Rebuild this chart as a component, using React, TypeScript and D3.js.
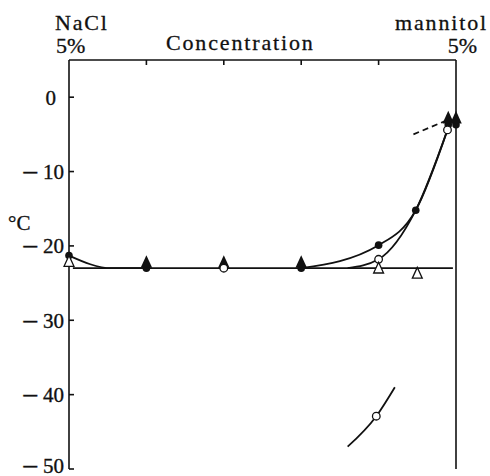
import React from "react";
import * as d3 from "d3";

// Composition axis: 0 = NaCl 5%, 5 = mannitol 5%
const xTicks = [0, 1, 2, 3, 4, 5];
const yTicks = [0, -10, -20, -30, -40, -50];

// Measured transition temperatures (°C)
const filledCircles: [number, number][] = [
  [0, -21.3], [1, -23], [3, -23], [4, -19.9], [4.48, -15.2], [4.9, -3.7], [5, -3.7],
];
const openCircles: [number, number][] = [
  [2, -23], [4, -21.8], [4.89, -4.4], [3.97, -42.9],
];
const filledTriangles: [number, number][] = [
  [1, -22.3], [2, -22.3], [3, -22.3], [4.9, -2.9], [5, -2.9],
];
const openTriangles: [number, number][] = [
  [0, -22.2], [4, -23.1], [4.5, -23.8],
];

// Eutectic level
const eutectic = -23;
const eutecticRange: [number, number] = [0.05, 4.96];

// Freehand curves drawn through the measurements
const leftCurve: [number, number][] = [[0, -21.3], [0.55, -23], [1, -23]];
const filledRise: [number, number][] = [[3, -23], [4, -19.9], [4.48, -15.2], [4.89, -4.4]];
const openRise: [number, number][] = [[3.6, -23], [4, -21.8], [4.48, -15.2], [4.89, -4.4]];
const lowCurve: [number, number][] = [[3.6, -47], [3.97, -42.9], [4.21, -39]];
const dashedCurve: [number, number][] = [[4.45, -5], [4.86, -3.2]];

const W = 490;
const H = 476;
const FONT = "'Liberation Serif', 'DejaVu Serif', serif";

export default function App() {
  const x = d3.scaleLinear().domain([0, 5]).range([69, 456]);
  const y = d3.scaleLinear().domain([-50, 5]).range([469, 60]);

  const line = d3
    .line<[number, number]>()
    .x((d) => x(d[0]))
    .y((d) => y(d[1]))
    .curve(d3.curveMonotoneX);
  const straight = d3
    .line<[number, number]>()
    .x((d) => x(d[0]))
    .y((d) => y(d[1]));

  const tri = (cx: number, cy: number, s: number) =>
    `M${cx},${cy - s * 0.75}L${cx + s * 0.55},${cy + s * 0.45}L${cx - s * 0.55},${cy + s * 0.45}Z`;

  const top = y(5);
  const bottom = y(-50);

  return (
    <svg
      width={W}
      height={H}
      style={{ position: "absolute", left: 0, top: 0, background: "#fff" }}
      fontFamily={FONT}
    >
      {/* frame: left axis, top edge, right axis */}
      <g stroke="#111" strokeWidth={1.6} fill="none">
        <line x1={x(0)} y1={top} x2={x(0)} y2={bottom} />
        <line x1={x(0)} y1={top} x2={x(5)} y2={top} />
        <line x1={x(5)} y1={top} x2={x(5)} y2={bottom} />
        {xTicks.slice(1, -1).map((t) => (
          <line key={t} x1={x(t)} y1={top} x2={x(t)} y2={top + 5} />
        ))}
        {yTicks.map((t) => (
          <line key={t} x1={x(0)} y1={y(t)} x2={x(0) + 5} y2={y(t)} />
        ))}
      </g>

      {/* y tick labels */}
      <g fontSize={21} fill="#111" stroke="#111" strokeWidth={0.35} textAnchor="end">
        {yTicks.map((t) => (
          <text key={t} x={t === 0 ? 56 : 64} y={y(t)} dy={t === -50 ? "0.2em" : "0.35em"}>
            {t < 0 ? (
              <>
                <tspan fontSize={27}>{"\u2013"}</tspan>
                <tspan dx={6}>{-t}</tspan>
              </>
            ) : (
              `${t}`
            )}
          </text>
        ))}
      </g>
      <text x={8} y={230} fontSize={21} fill="#111" stroke="#111" strokeWidth={0.3}>°C</text>

      {/* top labels */}
      <g fontSize={22} fill="#111" stroke="#111" strokeWidth={0.3}>
        <text x={55} y={30} letterSpacing={1.8}>NaCl</text>
        <text x={56} y={53}>5%</text>
        <text x={166} y={50} letterSpacing={1.85}>Concentration</text>
        <text x={488} y={30} textAnchor="end" letterSpacing={1.85}>mannitol</text>
        <text x={477} y={53} textAnchor="end">5%</text>
      </g>

      {/* curves */}
      <g stroke="#111" strokeWidth={1.8} fill="none">
        <line x1={x(eutecticRange[0])} y1={y(eutectic)} x2={x(eutecticRange[1])} y2={y(eutectic)} />
        <path d={line(leftCurve) ?? ""} />
        <path d={line(filledRise) ?? ""} />
        <path d={line(openRise) ?? ""} />
        <path d={line(lowCurve) ?? ""} />
        <path d={straight(dashedCurve) ?? ""} strokeDasharray="6,4" />
      </g>

      {/* markers */}
      <g>
        {filledCircles.map((d, i) => (
          <circle key={`fc${i}`} cx={x(d[0])} cy={y(d[1])} r={3.8} fill="#111" />
        ))}
        {filledTriangles.map((d, i) => (
          <path key={`ft${i}`} d={tri(x(d[0]), y(d[1]), 10.5)} fill="#111" />
        ))}
        {openCircles.map((d, i) => (
          <circle key={`oc${i}`} cx={x(d[0])} cy={y(d[1])} r={3.8} fill="#fff" stroke="#111" strokeWidth={1.3} />
        ))}
        {openTriangles.map((d, i) => (
          <path key={`ot${i}`} d={tri(x(d[0]), y(d[1]), 9)} fill="#fff" stroke="#111" strokeWidth={1.3} />
        ))}
      </g>
    </svg>
  );
}
